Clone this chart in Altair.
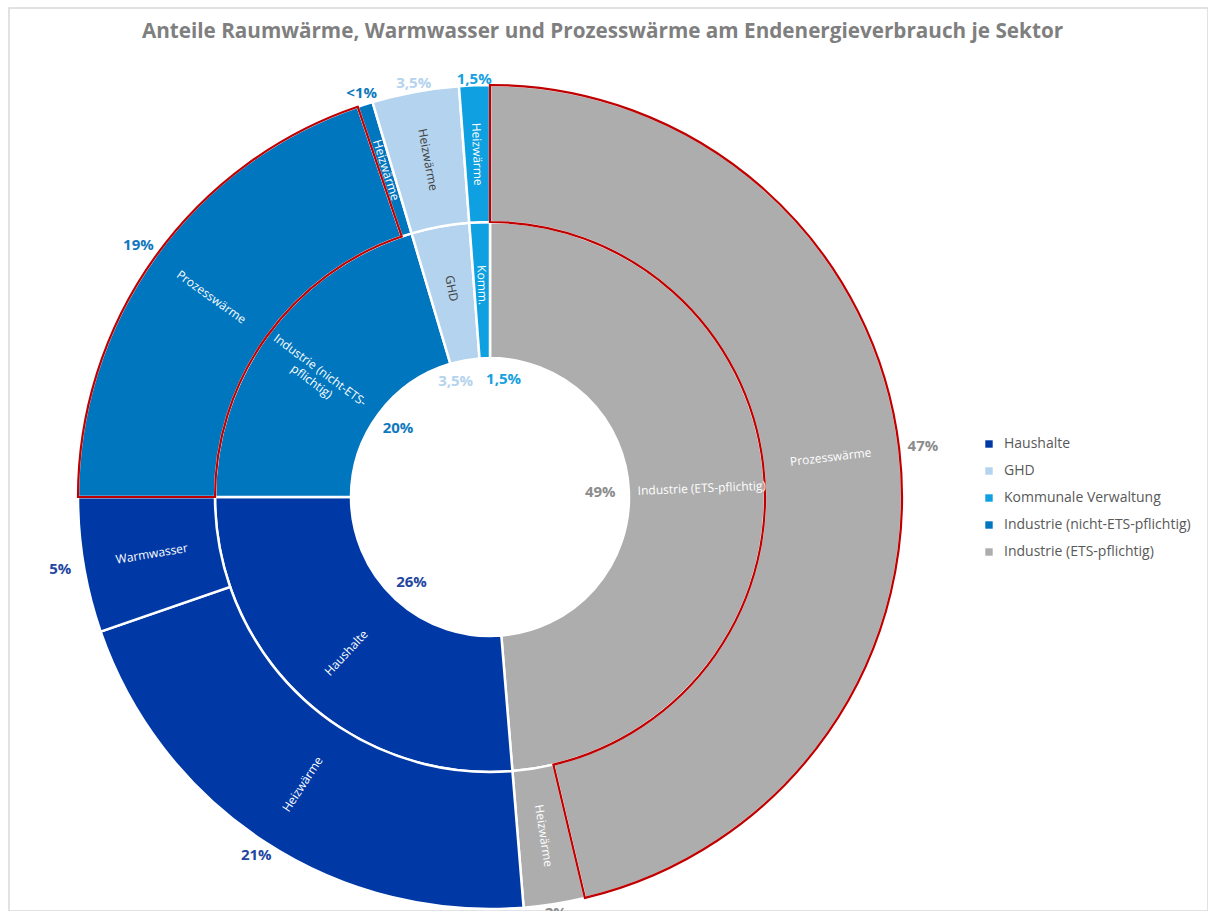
import altair as alt
import pandas as pd

# ---------------- data ----------------
sectors = ["Haushalte", "GHD", "Kommunale Verwaltung",
           "Industrie (nicht-ETS-pflichtig)", "Industrie (ETS-pflichtig)"]
sector_colors = ["#0039A6", "#B4D3EE", "#0EA0E0", "#0076BF", "#ADADAD"]
pct_colors = ["#2346A0", "#B4D3EE", "#17A0DF", "#1079BD", "#8C8C8C"]

inner_sector = ["Industrie (ETS-pflichtig)", "Haushalte",
                "Industrie (nicht-ETS-pflichtig)", "GHD", "Kommunale Verwaltung"]
inner_value = [48.7, 26.3, 20.4, 3.4, 1.2]
inner_label = ["Industrie (ETS-pflichtig)", "Haushalte",
               "Industrie (nicht-ETS-\npflichtig)", "GHD", "Komm."]
inner_pct = ["49%", "26%", "20%", "3,5%", "1,5%"]

outer_sector = ["Industrie (ETS-pflichtig)", "Industrie (ETS-pflichtig)",
                "Haushalte", "Haushalte",
                "Industrie (nicht-ETS-pflichtig)", "Industrie (nicht-ETS-pflichtig)",
                "GHD", "Kommunale Verwaltung"]
outer_use = ["Prozesswärme", "Heizwärme", "Heizwärme", "Warmwasser",
             "Prozesswärme", "Heizwärme", "Heizwärme", "Heizwärme"]
outer_value = [46.3, 2.4, 21.0, 5.3, 19.8, 0.6, 3.4, 1.2]
outer_pct = ["47%", "2%", "21%", "5%", "19%", "<1%", "3,5%", "1,5%"]

title_text = "Anteile Raumwärme, Warmwasser und Prozesswärme am Endenergieverbrauch je Sektor"

inner_df = pd.DataFrame({"order": list(range(len(inner_sector))), "sector": inner_sector,
                         "value": inner_value, "label": inner_label, "pct": inner_pct})
outer_df = pd.DataFrame({"order": list(range(len(outer_sector))), "sector": outer_sector,
                         "value": outer_value, "label": outer_use, "pct": outer_pct})

# ---------------- layout ----------------
CX, CY = 481, 489
R_OUT, R_MID, R_IN = 412, 275, 139
FONT = "Open Sans"

theta_scale = alt.Scale(domain=[0, 100], range=[0, 6.283185307179586])
color_enc = alt.Color("sector:N", scale=alt.Scale(domain=sectors, range=sector_colors),
                      legend=alt.Legend(orient="none", legendX=973, legendY=429, title=None,
                                        symbolType="square", symbolSize=55,
                                        symbolStrokeWidth=0,
                                        labelFont=FONT, labelFontSize=14,
                                        labelColor="#595959", rowPadding=13,
                                        labelOffset=8, labelLimit=400))
color_nolegend = alt.Color("sector:N", scale=alt.Scale(domain=sectors, range=sector_colors),
                           legend=None)
pct_fill = alt.Fill("sector:N", scale=alt.Scale(domain=sectors, range=pct_colors), legend=None)
cx = alt.value(CX)
cy = alt.value(CY)


def stacked(df):
    return (alt.Chart(df)
            .transform_window(cum="sum(value)", sort=[alt.SortField("order")], frame=[None, 0])
            .transform_calculate(start="datum.cum - datum.value",
                                 mid="datum.cum - datum.value / 2")
            .transform_calculate(deg="datum.mid * 3.6")
            .transform_calculate(rot="datum.deg - 90 > 90 ? datum.deg - 270 : datum.deg - 90"))


inner = stacked(inner_df)
outer = stacked(outer_df)

arc_theta = alt.Theta("start:Q", stack=None, scale=theta_scale)
mid_theta = alt.Theta("mid:Q", stack=None, scale=theta_scale)

inner_arc = inner.mark_arc(stroke="white", strokeWidth=2.5).encode(
    theta=arc_theta, theta2="cum:Q", radius=alt.value(R_MID), radius2=alt.value(R_IN),
    x=cx, y=cy, color=color_enc)

outer_arc = outer.mark_arc(stroke="white", strokeWidth=2.5).encode(
    theta=arc_theta, theta2="cum:Q", radius=alt.value(R_OUT), radius2=alt.value(R_MID),
    x=cx, y=cy, color=color_nolegend)

red_outline = outer.transform_filter(alt.datum.label == "Prozesswärme").mark_arc(
    fillOpacity=0, stroke="#C00000", strokeWidth=2.2).encode(
    theta=arc_theta, theta2="cum:Q", radius=alt.value(R_OUT), radius2=alt.value(R_MID),
    x=cx, y=cy)

txt_color = alt.condition(alt.datum.sector == "GHD", alt.value("#404040"), alt.value("white"))

inner_txt = inner.mark_text(font=FONT, fontSize=12, lineBreak="\n").encode(
    theta=mid_theta, radius=alt.value(212), x=cx, y=cy, text="label:N",
    angle=alt.Angle("rot:Q", scale=None), color=txt_color)

outer_txt = outer.mark_text(font=FONT, fontSize=12).encode(
    theta=mid_theta, radius=alt.value(343), x=cx, y=cy, text="label:N",
    angle=alt.Angle("rot:Q", scale=None), color=txt_color)

outer_pct_txt = outer.transform_calculate(
    lr="418 + 18 * abs(sin(datum.mid * PI / 50))").mark_text(
    font=FONT, fontSize=15, fontWeight="bold").encode(
    theta=mid_theta, radius=alt.Radius("lr:Q", scale=None), x=cx, y=cy,
    text="pct:N", fill=pct_fill)

inner_pct_base = inner.transform_calculate(
    lr="110 + 8 * abs(cos(datum.mid * PI / 50))")
inner_pct_main = inner_pct_base.transform_filter(
    "datum.sector != 'GHD' && datum.sector != 'Kommunale Verwaltung'").mark_text(
    font=FONT, fontSize=15, fontWeight="bold").encode(
    theta=mid_theta, radius=alt.Radius("lr:Q", scale=None), x=cx, y=cy,
    text="pct:N", fill=pct_fill)
inner_pct_ghd = inner_pct_base.transform_filter(alt.datum.sector == "GHD").mark_text(
    font=FONT, fontSize=15, fontWeight="bold", dx=-13).encode(
    theta=mid_theta, radius=alt.Radius("lr:Q", scale=None), x=cx, y=cy,
    text="pct:N", fill=pct_fill)
inner_pct_komm = inner_pct_base.transform_filter(
    alt.datum.sector == "Kommunale Verwaltung").mark_text(
    font=FONT, fontSize=15, fontWeight="bold", dx=18).encode(
    theta=mid_theta, radius=alt.Radius("lr:Q", scale=None), x=cx, y=cy,
    text="pct:N", fill=pct_fill)

chart = alt.layer(
    inner_arc, outer_arc, red_outline, inner_txt, outer_txt,
    outer_pct_txt, inner_pct_main, inner_pct_ghd, inner_pct_komm
).properties(
    width=1199, height=903,
    padding={"left": 9, "top": 8, "right": 0, "bottom": 0},
    autosize=alt.AutoSizeParams(type="none"),
    background="white",
    title=alt.Title(title_text, font=FONT, fontSize=20.7, fontWeight="bold",
                    color="#7F7F7F", anchor="middle", baseline="top", offset=-35, dx=-6),
).configure_view(stroke="#D9D9D9", strokeWidth=1.5)

chart.save("out.html", embed_options={"renderer": "svg", "actions": False})
